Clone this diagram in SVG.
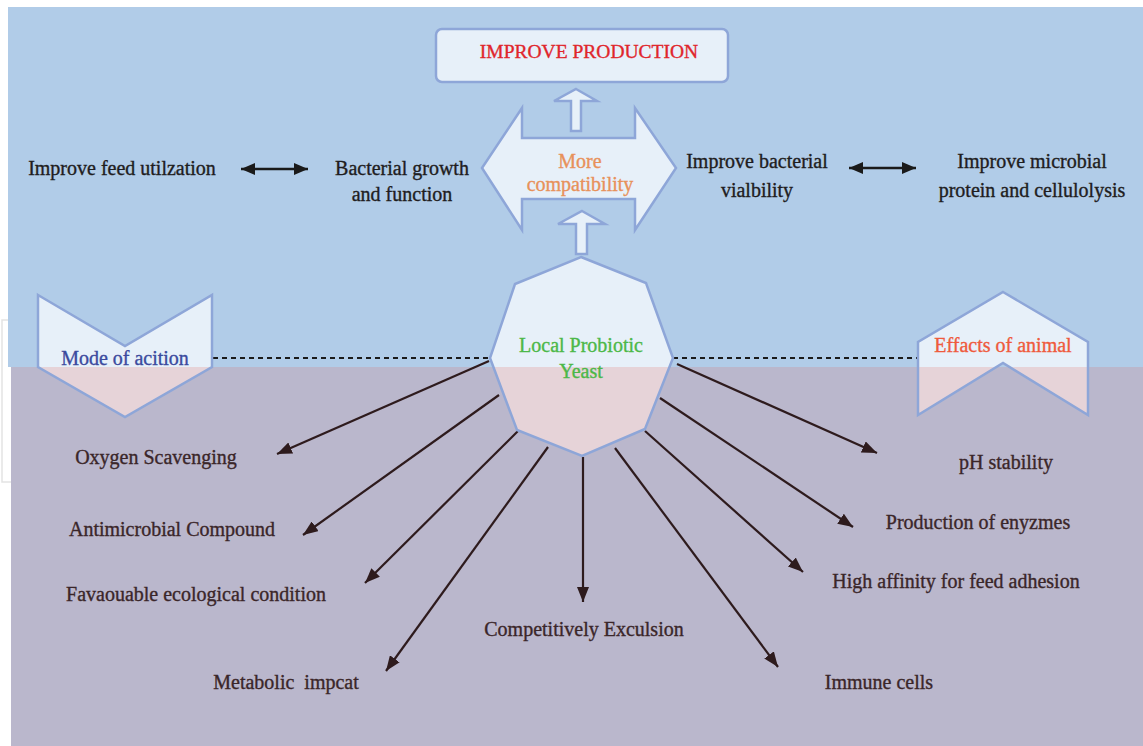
<svg xmlns="http://www.w3.org/2000/svg" width="1143" height="746" viewBox="0 0 1143 746">
<style>
.t{font-family:"Liberation Serif","Times New Roman",serif;font-size:20px;text-anchor:middle;stroke-width:0.35}
.top{fill:#1f1d1e;stroke:#1f1d1e}
.bot{fill:#3a2629;stroke:#3a2629}
.shape{fill:none;stroke:#8ea6d8;stroke-width:2.5;stroke-linejoin:miter}
.conn{stroke:#2e1b1d;stroke-width:2.2;fill:none;marker-end:url(#ah)}
.dbl{stroke:#1a1a1a;stroke-width:2.5;fill:none;marker-end:url(#bh);marker-start:url(#bh)}
.dash{stroke:#1a1a1a;stroke-width:2.2;stroke-dasharray:5,4;fill:none}
.lb{fill:#e7f0f9}
.pk{fill:#e6d3d8}
</style>
<defs>
<marker id="ah" markerUnits="userSpaceOnUse" markerWidth="15" markerHeight="12" refX="15" refY="6" orient="auto">
<path d="M0,0 L15,6 L0,12 z" fill="#2e1b1d"/>
</marker>
<marker id="bh" markerUnits="userSpaceOnUse" markerWidth="14" markerHeight="12" refX="14" refY="6" orient="auto-start-reverse">
<path d="M0,0 L14,6 L0,12 z" fill="#1a1a1a"/>
</marker>
<clipPath id="above"><rect x="0" y="0" width="1143" height="367"/></clipPath>
<clipPath id="below"><rect x="0" y="367" width="1143" height="379"/></clipPath>
</defs>
<rect x="0" y="0" width="1143" height="746" fill="#ffffff"/>
<rect x="2" y="320" width="30" height="162" fill="#ffffff" stroke="#e3e3e3" stroke-width="1.5"/>
<rect x="8" y="7" width="1135" height="360" fill="#b1cce8"/>
<rect x="11" y="367" width="1132" height="379" fill="#bab7cc"/>

<g id="connectors">
<line class="dbl" x1="241" y1="169" x2="308" y2="169"/>
<line class="dbl" x1="849" y1="168" x2="916" y2="168"/>
<line class="dash" x1="213" y1="358" x2="490" y2="358"/>
<line class="dash" x1="673" y1="358" x2="918" y2="358"/>
<line class="conn" x1="489" y1="361" x2="277" y2="454"/>
<line class="conn" x1="499" y1="395" x2="303" y2="535"/>
<line class="conn" x1="518" y1="431" x2="365" y2="583"/>
<line class="conn" x1="548" y1="447" x2="386" y2="671"/>
<line class="conn" x1="583" y1="457" x2="583" y2="602"/>
<line class="conn" x1="615" y1="448" x2="778" y2="667"/>
<line class="conn" x1="645" y1="431" x2="803" y2="572"/>
<line class="conn" x1="660" y1="398" x2="853" y2="527"/>
<line class="conn" x1="677" y1="364" x2="877" y2="453"/>
</g>

<g id="improve-production">
<rect x="436" y="29" width="292" height="53" rx="6" fill="#e7f0f9" stroke="#8ea6d8" stroke-width="2.5"/>
<text class="t" x="589" y="58" fill="#e0252b" stroke="#e0252b" style="font-size:19.5px">IMPROVE PRODUCTION</text>
</g>

<g id="up-arrow-1">
<polygon class="lb" points="576,89 597,101 581,101 581,131 571,131 571,101 554,101" stroke="#8ea6d8" stroke-width="2.5"/>
</g>

<g id="more-compatibility">
<polygon class="shape" style="fill:#e7f0f9" points="482,168 522,108 522,138 635,138 635,108 676,168 635,230 635,199 522,199 522,230"/>
<text class="t" x="580" y="168" fill="#e8915a" stroke="#e8915a">More</text>
<text class="t" x="580" y="191" fill="#e8915a" stroke="#e8915a">compatibility</text>
</g>

<g id="up-arrow-2">
<polygon class="lb" points="582,211 605,224 587,224 587,254 576,254 576,224 558,224" stroke="#8ea6d8" stroke-width="2.5"/>
</g>

<g id="local-probiotic-yeast">
<polygon class="lb" clip-path="url(#above)" points="581,257 646,283 673,358 645,429 582,456 517,430 490,358 515,284"/>
<polygon class="pk" clip-path="url(#below)" points="581,257 646,283 673,358 645,429 582,456 517,430 490,358 515,284"/>
<polygon class="shape" points="581,257 646,283 673,358 645,429 582,456 517,430 490,358 515,284"/>
<text class="t" x="581" y="352" fill="#4cb848" stroke="#4cb848">Local Probiotic</text>
<text class="t" x="581" y="378" fill="#4cb848" stroke="#4cb848">Yeast</text>
</g>

<g id="mode-of-action">
<polygon class="lb" clip-path="url(#above)" points="38,295 125,346 212,295 212,367 125,417 38,367"/>
<polygon class="pk" clip-path="url(#below)" points="38,295 125,346 212,295 212,367 125,417 38,367"/>
<polygon class="shape" points="38,295 125,346 212,295 212,367 125,417 38,367"/>
<text class="t" x="125" y="365" fill="#3b4a9e" stroke="#3b4a9e">Mode of acition</text>
</g>

<g id="effects-of-animal">
<polygon class="lb" clip-path="url(#above)" points="1003,292 1088,342 1088,415 1003,363 918,415 918,342"/>
<polygon class="pk" clip-path="url(#below)" points="1003,292 1088,342 1088,415 1003,363 918,415 918,342"/>
<polygon class="shape" points="1003,292 1088,342 1088,415 1003,363 918,415 918,342"/>
<text class="t" x="1003" y="352" fill="#ef5a3c" stroke="#ef5a3c">Effacts of animal</text>
</g>

<g id="improve-feed"><text class="t top" x="122" y="175">Improve feed utilzation</text></g>
<g id="bacterial-growth">
<text class="t top" x="402" y="175">Bacterial growth</text>
<text class="t top" x="402" y="201">and function</text>
</g>
<g id="bacterial-viability">
<text class="t top" x="757" y="168">Improve bacterial</text>
<text class="t top" x="757" y="197">vialbility</text>
</g>
<g id="microbial-protein">
<text class="t top" x="1032" y="168">Improve microbial</text>
<text class="t top" x="1032" y="197">protein and cellulolysis</text>
</g>

<g id="oxygen"><text class="t bot" x="156" y="464">Oxygen Scavenging</text></g>
<g id="antimicrobial"><text class="t bot" x="172" y="536">Antimicrobial Compound</text></g>
<g id="ecological"><text class="t bot" x="196" y="601">Favaouable ecological condition</text></g>
<g id="metabolic"><text class="t bot" x="286" y="689" xml:space="preserve">Metabolic  impcat</text></g>
<g id="competitive"><text class="t bot" x="584" y="636">Competitively Exculsion</text></g>
<g id="immune"><text class="t bot" x="879" y="689">Immune cells</text></g>
<g id="affinity"><text class="t bot" x="956" y="588">High affinity for feed adhesion</text></g>
<g id="enzymes"><text class="t bot" x="978" y="529">Production of enyzmes</text></g>
<g id="ph"><text class="t bot" x="1006" y="469">pH stability</text></g>
</svg>
